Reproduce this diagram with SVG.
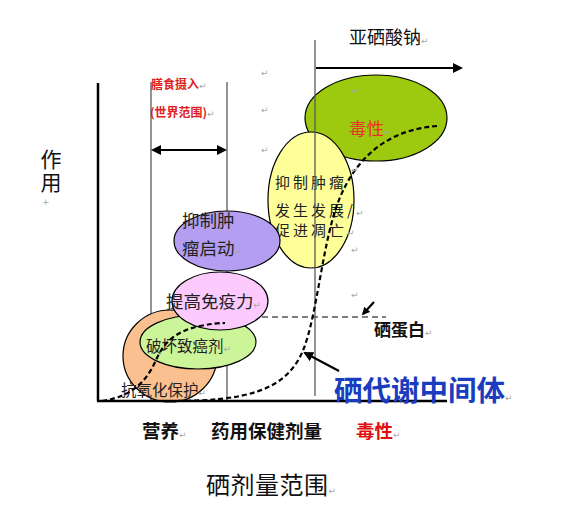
<svg xmlns="http://www.w3.org/2000/svg" width="579" height="518" viewBox="0 0 579 518">
<style>
.cjk{font-family:"Noto Sans CJK SC","Noto Sans",sans-serif;}
.b{font-weight:bold;}
.pm{font-family:"DejaVu Sans",sans-serif;font-size:9px;fill:#a8a8a8;font-weight:normal;letter-spacing:0;}
.axis{stroke:#000;stroke-width:2.5;fill:none;}
.guide{stroke:#5a5a5a;stroke-width:1.3;fill:none;}
.ell{stroke:#000;stroke-width:1.2;}
.dash{stroke:#000;stroke-width:2.2;fill:none;stroke-dasharray:5 3;}
.thin{stroke:#000;stroke-width:1.2;fill:none;stroke-dasharray:6 4;}
.arr{stroke:#000;stroke-width:2.2;fill:none;}
</style>
<defs>
<marker id="ah" viewBox="0 0 10 10" refX="8" refY="5" markerWidth="8" markerHeight="8" orient="auto-start-reverse" markerUnits="userSpaceOnUse">
<path d="M0,0 L10,5 L0,10 z" fill="#000"/>
</marker>
<marker id="ahs" viewBox="0 0 10 10" refX="8" refY="5" markerWidth="10" markerHeight="10" orient="auto-start-reverse" markerUnits="userSpaceOnUse">
<path d="M0,0 L10,5 L0,10 z" fill="#000"/>
</marker>
</defs>
<rect width="579" height="518" fill="#fff"/>

<g id="guides">
<line class="guide" x1="151" y1="82" x2="151" y2="400"/>
<line class="guide" x1="227" y1="82" x2="227" y2="400"/>
<line class="thin" x1="152" y1="317" x2="386" y2="317"/>
</g>

<g id="node-antioxidant">
<ellipse class="ell" cx="170" cy="356" rx="47" ry="46" fill="#fac090"/>
<text class="cjk" x="121" y="396" font-size="15.5" fill="#222">抗氧化保护<tspan class="pm">↵</tspan></text>
</g>
<g id="node-carcinogen">
<ellipse class="ell" cx="198" cy="342" rx="58" ry="27" fill="#ccf59a"/>
<text class="cjk" x="146" y="352" font-size="15.5" fill="#222">破坏致癌剂<tspan class="pm">↵</tspan></text>
</g>
<g id="node-immunity">
<ellipse class="ell" cx="220" cy="301" rx="48" ry="29" fill="#fccafc"/>
<text class="cjk" x="166" y="308" font-size="17.5" fill="#222">提高免疫力<tspan class="pm">↵</tspan></text>
</g>
<g id="node-toxicity">
<ellipse class="ell" cx="376" cy="118" rx="71" ry="43" fill="#9dc90f"/>
<text class="cjk" x="349" y="135" font-size="17.5" fill="#e8332a">毒性<tspan class="pm">↵</tspan></text>
<text class="pm" x="351" y="94">↵</text>
</g>
<g id="node-tumor-dev">
<ellipse class="ell" cx="311" cy="200" rx="43" ry="68" fill="#ffff99"/>
<text class="cjk" font-size="15" fill="#222" letter-spacing="3">
<tspan x="275" y="188">抑制肿瘤</tspan>
<tspan x="275" y="216">发生发展/<tspan class="pm">↵</tspan></tspan>
<tspan x="275" y="236">促进凋亡<tspan class="pm">↵</tspan></tspan>
</text>
</g>
<g id="node-tumor-init">
<ellipse class="ell" cx="227" cy="241" rx="53" ry="30" fill="#b49ef2"/>
<text class="cjk" font-size="17.5" fill="#222">
<tspan x="182" y="227">抑制肿</tspan>
<tspan x="182" y="255">瘤启动<tspan class="pm">↵</tspan></tspan>
</text>
</g>

<g id="axes">
<line class="axis" x1="98" y1="83" x2="98" y2="401"/>
<line class="axis" x1="97" y1="401" x2="447" y2="401"/>
<line class="guide" x1="315" y1="40" x2="315" y2="396"/>
</g>

<g id="connectors">
<line class="arr" x1="316" y1="68" x2="461" y2="68" marker-end="url(#ahs)"/>
<line class="arr" x1="153" y1="150" x2="225" y2="150" stroke-width="2.5" marker-start="url(#ahs)" marker-end="url(#ahs)"/>
<path class="dash" d="M102,401 C135,396 148,378 156,360 C164,342 176,331 200,326 C210,324 218,323 225,323"/>
<path class="dash" d="M170,401 C245,401 287,392 304,348 C317,313 322,250 336,208 C351,164 382,130 437,126"/>
<line class="arr" x1="374" y1="302" x2="363" y2="314" stroke-width="2" marker-end="url(#ah)"/>
<line class="arr" x1="339" y1="371" x2="305" y2="353" stroke-width="2.5" marker-end="url(#ahs)"/>
</g>

<g id="labels">
<text class="cjk" x="349" y="44" font-size="18" fill="#111">亚硒酸钠<tspan class="pm">↵</tspan></text>
<text class="cjk b" x="151" y="89" font-size="12" fill="#e0201e">膳食摄入<tspan class="pm">↵</tspan></text>
<text class="cjk b" x="150" y="117" font-size="12" fill="#e0201e">(世界范围)<tspan class="pm">↵</tspan></text>
<text class="cjk" x="51" y="149" font-size="21" fill="#111" writing-mode="vertical-rl" letter-spacing="2">作用</text>
<text class="pm" x="42" y="205" font-size="7">+</text>
<text class="pm" x="261" y="76">↵</text>
<text class="pm" x="261" y="113">↵</text>
<text class="pm" x="261" y="153">↵</text>
<text class="pm" x="351" y="173">↵</text>
<text class="pm" x="351" y="253">↵</text>
<text class="pm" x="351" y="298">↵</text>
<text class="cjk b" x="374" y="336" font-size="17" fill="#111">硒蛋白<tspan class="pm">↵</tspan></text>
<text class="cjk b" x="334" y="401" font-size="28.5" fill="#1a3cbf">硒代谢中间体<tspan class="pm">↵</tspan></text>
<text class="cjk b" x="142" y="438" font-size="18.5" fill="#111">营养<tspan class="pm">↵</tspan></text>
<text class="cjk b" x="211" y="438" font-size="18.5" fill="#111">药用保健剂量</text>
<text class="cjk b" x="356" y="438" font-size="18.5" fill="#e0100e">毒性<tspan class="pm">↵</tspan></text>
<text class="cjk" x="206" y="494" font-size="24" fill="#111" letter-spacing="0.5">硒剂量范围<tspan class="pm">↵</tspan></text>
</g>
</svg>
